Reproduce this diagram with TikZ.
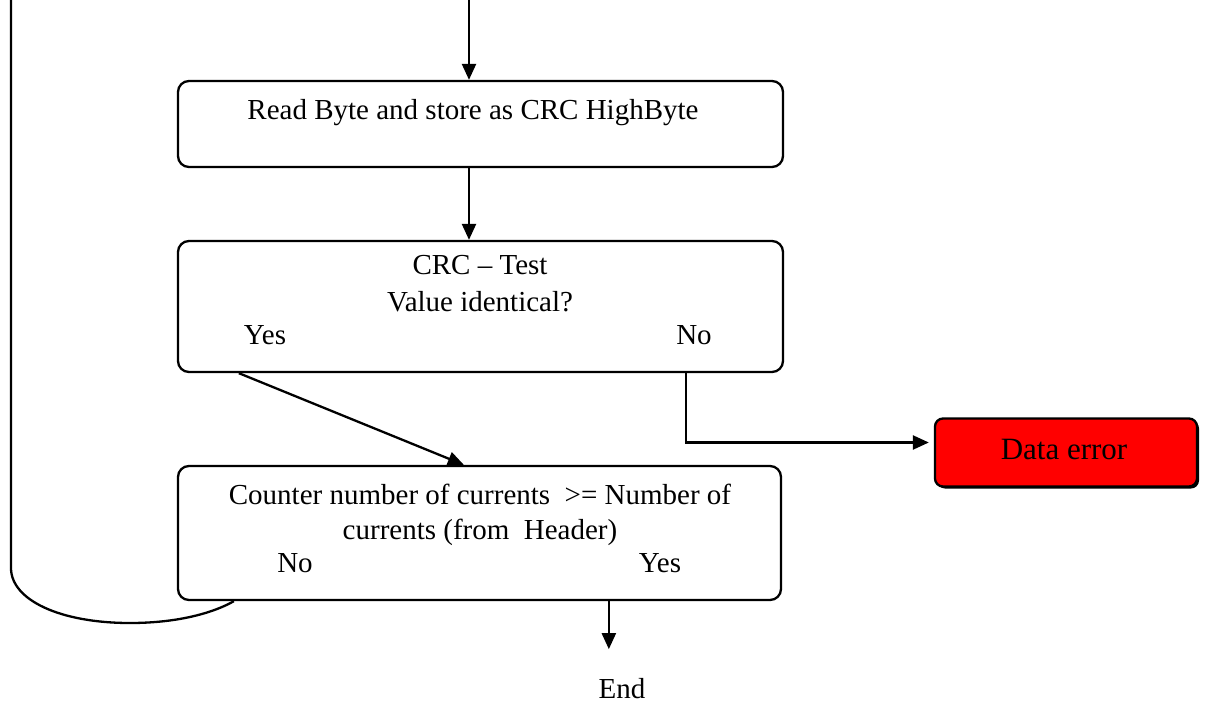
\documentclass[tikz,border=0pt]{standalone}
\usepackage{fontspec}
\setmainfont{Liberation Serif}
\usetikzlibrary{arrows.meta,calc,shadows}
\begin{document}
\begin{tikzpicture}[x=1pt,y=-1pt,
  line width=2.3pt,
  arr/.style={-{Triangle[length=16pt,width=14pt]}},
  box/.style={draw,rounded corners=11pt,minimum width=605pt},
  txt/.style={inner sep=0pt,text height=19pt,text depth=6pt,font=\fontsize{29}{35}\selectfont},
  errbox/.style={draw,rounded corners=8pt,fill=red,minimum width=262pt,minimum height=68pt,
    drop shadow={shadow xshift=2pt,shadow yshift=-2pt,fill=black,opacity=1}},
]
\useasboundingbox (0,0) rectangle (1205,704);
% boxes
\node[box,minimum height=86pt] (b1) at (480.5,124) {};
\node[box,minimum height=131pt] (b2) at (480.5,306.5) {};
\node[box,minimum width=603pt,minimum height=134pt] (b3) at (479.5,533) {};
\node[errbox] (de) at (1066,452.5) {};
% texts
\node[txt] (t1) at (473,113) {Read Byte and store as CRC HighByte};
\node[txt] (t2a) at (480,268) {CRC – Test};
\node[txt] (t2b) at (480,305) {Value identical?};
\node[txt] (t2y) at (265,338) {Yes};
\node[txt] (t2n) at (694,338) {No};
\node[txt] (t3a) at (480,498) {Counter number of currents\ \ {>}= Number of};
\node[txt] (t3b) at (480,533) {currents (from\ \ Header)};
\node[txt] (t3n) at (295,566) {No};
\node[txt] (t3y) at (660,566) {Yes};
\node[txt,font=\fontsize{31}{37}\selectfont] (tde) at ($(de.center)+(-2,0)$) {Data error};
\node[txt] (end) at (622,692) {End};
% connectors
\coordinate (top) at (469,0);
\draw[arr] (top) -- (top |- b1.north);
\draw[arr] (b1.south -| top) -- (b2.north -| top);
\coordinate (yesS) at ($(b2.south west)+(62,0)$);
\coordinate (yesE) at ($(b3.north west)+(287,0)$);
\draw[arr] (yesS) -- (yesE);
\coordinate (noS) at ($(b2.south west)+(509,0)$);
\coordinate (noE) at ($(de.west)+(-5,-10)$);
\draw[arr] (noS) |- (noE);
\coordinate (endS) at ($(b3.south west)+(432,0)$);
\coordinate (endE) at ($(endS)+(0,48)$);
\draw[arr] (endS) -- (endE);
\coordinate (loopTop) at (11,0);
\coordinate (loopEnd) at ($(b3.south west)+(57,0)$);
\draw (loopTop) -- (11,568) .. controls (11,600) and (60,623) .. (130,623)
  .. controls (180,623) and (215,612) .. (loopEnd);
\end{tikzpicture}
\end{document}
